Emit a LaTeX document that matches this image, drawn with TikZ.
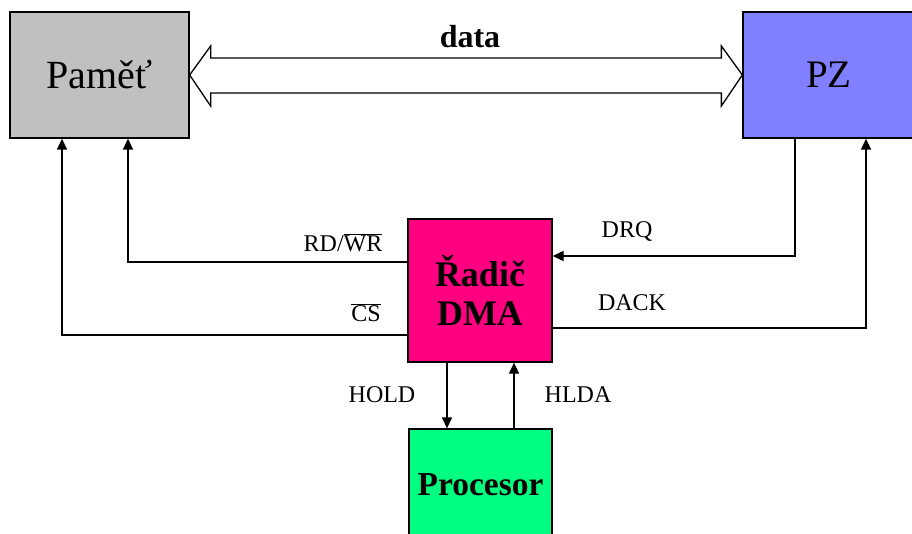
\documentclass[tikz,border=0pt]{standalone}
\usepackage{fontspec}
\setmainfont{Liberation Serif}
\usetikzlibrary{arrows.meta}
\begin{document}
\begin{tikzpicture}[x=1pt,y=-1pt,
  box/.style={draw=black,line width=1.3pt,minimum width=#1,inner sep=0pt,align=center},
  sig/.style={line width=1.3pt,-{Triangle[length=11pt,width=10pt]}},
  wire/.style={line width=1.3pt},
  lab/.style={font=\fontsize{24}{26}\selectfont,inner sep=0pt}]
\useasboundingbox (0,0) rectangle (912,534);
\clip (0,0) rectangle (912,534);
\definecolor{pamc}{HTML}{C0C0C0}
\definecolor{pzc}{HTML}{8080FF}
\definecolor{dmac}{HTML}{FF0080}
\definecolor{procc}{HTML}{00FF80}
\node[box=179pt,minimum height=126pt,fill=pamc,font=\fontsize{40}{42}\selectfont] (pam) at (99.5,75) {Paměť};
\node[box=172pt,minimum height=126pt,fill=pzc,font=\fontsize{39}{42}\selectfont] (pz) at (829,75) {PZ};
\node[box=144pt,minimum height=143pt,fill=dmac,font=\bfseries\fontsize{36}{39}\selectfont] (dma) at (480,290.5) {Řadič\\DMA};
\node[box=143pt,minimum height=130pt,fill=procc] (proc) at (480.5,494) {};
\node[font=\bfseries\fontsize{33.5}{36}\selectfont,inner sep=0pt] (proct) at (480.5,485) {Procesor};
% data bus
\draw[line width=1.3pt,fill=white]
  (pam.east) -- ++(21,-29) -- ++(0,12) -- ([xshift=-21pt,yshift=17pt]pz.west) -- ++(0,-12) -- (pz.west)
  -- ++(-21,31) -- ++(0,-13) -- ([xshift=21pt,yshift=-18pt]pam.east) -- ++(0,13) -- cycle;
\node[font=\bfseries\fontsize{32}{34}\selectfont,inner sep=0pt] (data) at (470,37) {data};
% signals to memory
\draw[sig] ([yshift=-44.5pt]dma.west) -| ([xshift=-37.5pt]pam.south);
\draw[sig] ([yshift=28.5pt]dma.west) -| ([xshift=28.5pt]pam.south);
% PZ signals
\draw[sig] ([xshift=-34pt]pz.south) |- ([yshift=34.5pt]dma.east);
\draw[sig] ([yshift=-37.5pt]dma.east) -| ([xshift=37pt]pz.south);
% processor
\draw[sig] ([xshift=-33pt]dma.south) -- ([xshift=-33.5pt]proc.north);
\draw[sig] ([xshift=33.5pt]proc.north) -- ([xshift=34pt]dma.south);
% labels
\node[lab] (lrd) at (343,243) {RD/$\overline{\hbox{WR}}$};
\node[lab] (lcs) at (366,313) {$\overline{\hbox{CS}}$};
\node[lab] (ldrq) at (627,232) {DRQ};
\node[lab] (ldack) at (632,303) {DACK};
\node[lab] (lhold) at (382,395) {HOLD};
\node[lab] (lhlda) at (578,395) {HLDA};
\end{tikzpicture}
\end{document}
